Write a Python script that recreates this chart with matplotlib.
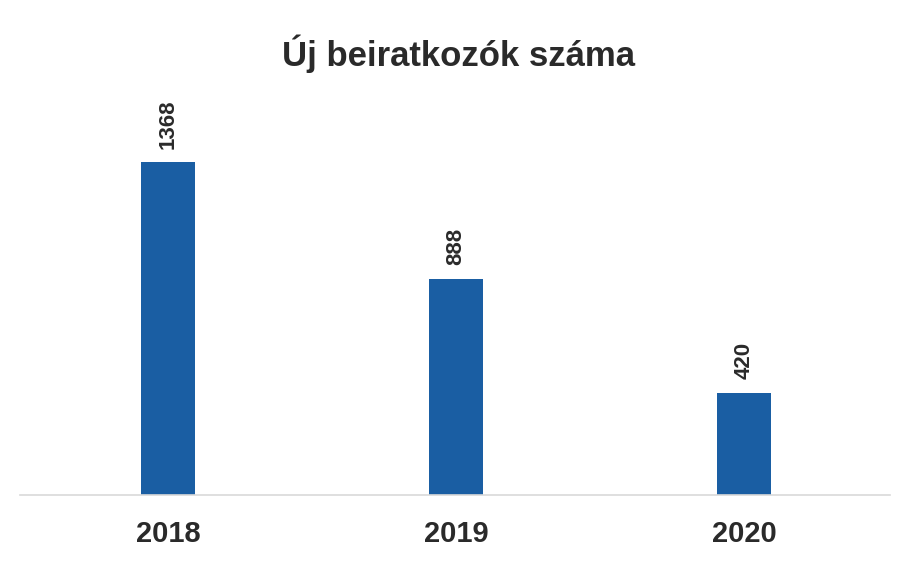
import matplotlib.pyplot as plt

# Data
years = ['2018', '2019', '2020']
enrolments = [1368, 888, 420]

bar_color = '#1a5ea3'
text_color = '#2a2a2a'

plt.rcParams['font.family'] = ['Liberation Sans', 'DejaVu Sans']

fig = plt.figure(figsize=(9.17, 5.67), dpi=100)
ax = fig.add_axes([0.0218, 0.127, 0.9488, 0.686])

x = list(range(len(years)))
bars = ax.bar(x, enrolments, width=0.19, color=bar_color)

# Value labels, rotated above each bar
for rect, val in zip(bars, enrolments):
    ax.annotate(str(val), (rect.get_x() + rect.get_width() / 2, rect.get_height()),
                xytext=(0, 10), textcoords='offset points', rotation=90,
                ha='center', va='bottom', fontsize=16, fontweight='bold',
                color=text_color)

ax.set_xlim(-0.514, 2.507)
ax.set_ylim(0, 1600)
ax.set_xticks(x)
ax.set_xticklabels(years, fontsize=21, fontweight='bold', color=text_color)
ax.tick_params(axis='x', length=0, pad=18)
ax.set_yticks([])

for side in ['top', 'right', 'left']:
    ax.spines[side].set_visible(False)
ax.spines['bottom'].set_color('#d9d9d9')
ax.spines['bottom'].set_linewidth(1.2)

fig.text(0.5, 0.905, 'Új beiratkozók száma', ha='center', va='center',
         fontsize=25, fontweight='bold', color=text_color)

plt.savefig('out.png', dpi=100)
